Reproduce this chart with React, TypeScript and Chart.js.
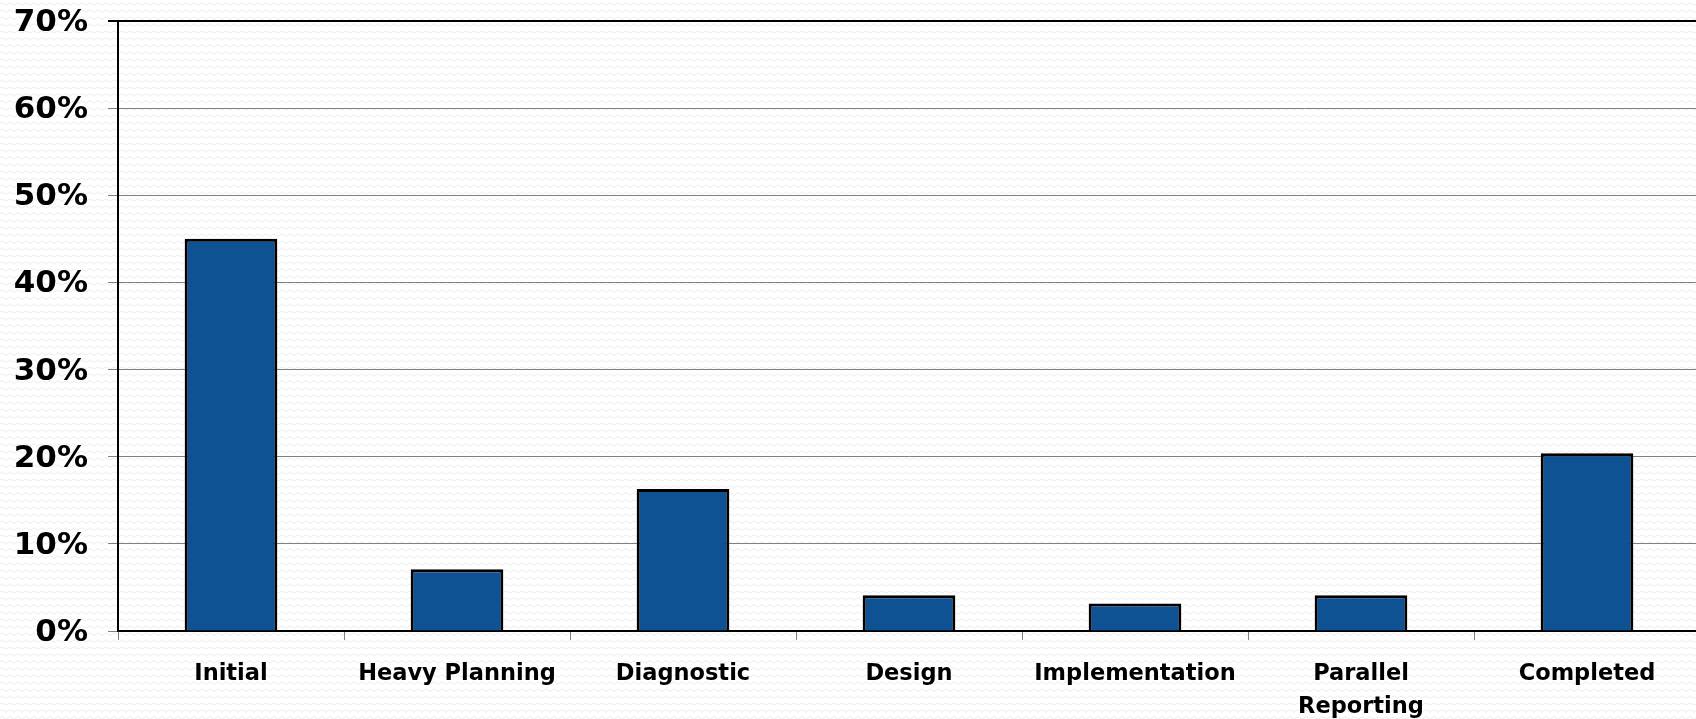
import React, { useEffect, useRef } from "react";
import { Chart, registerables } from "chart.js";

Chart.register(...registerables);

const categories: (string | string[])[] = [
  "Initial",
  "Heavy Planning",
  "Diagnostic",
  "Design",
  "Implementation",
  ["Parallel", "Reporting"],
  "Completed",
];
const shares: number[] = [45, 7.1, 16.3, 4.1, 3.15, 4.1, 20.4];
const yMin = 0;
const yMax = 70;
const yStep = 10;

const wave =
  "url(\"data:image/svg+xml;utf8," +
  encodeURIComponent(
    "<svg xmlns='http://www.w3.org/2000/svg' width='8' height='7'><path d='M0 4 Q2 1.5 4 4 T8 4' stroke='#ececec' stroke-width='1' fill='none'/></svg>"
  ) +
  "\")";

export default function App() {
  const ref = useRef<HTMLCanvasElement | null>(null);
  useEffect(() => {
    if (!ref.current) return;
    const chart = new Chart(ref.current, {
      type: "bar",
      data: {
        labels: categories,
        datasets: [
          {
            data: shares,
            backgroundColor: "#0F5294",
            borderColor: "#000000",
            borderWidth: 3,
            barPercentage: 0.41,
            categoryPercentage: 1,
          },
        ],
      },
      options: {
        animation: false,
        responsive: false,
        maintainAspectRatio: false,
        layout: { padding: { top: 0, left: 0, right: 0, bottom: 0 } },
        plugins: { legend: { display: false }, tooltip: { enabled: false } },
        scales: {
          x: {
            grid: {
              display: true,
              offset: true,
              drawOnChartArea: false,
              drawTicks: true,
              tickLength: 9,
              color: "#808080",
            },
            border: { display: true, color: "#000000", width: 2 },
            ticks: {
              color: "#000000",
              padding: 18,
              maxRotation: 0,
              autoSkip: false,
              font: { family: "'DejaVu Sans'", weight: "bold", size: 22.5, lineHeight: 1.45 },
            },
            afterFit: (s: any) => {
              s.height = 88;
            },
          },
          y: {
            min: yMin,
            max: yMax,
            grid: {
              color: (ctx: any) => (ctx.tick && ctx.tick.value === yMax ? "#000000" : "#808080"),
              lineWidth: (ctx: any) => (ctx.tick && ctx.tick.value === yMax ? 2 : 1),
              drawTicks: true,
              tickLength: 10,
            },
            border: { display: true, color: "#000000", width: 2 },
            ticks: {
              stepSize: yStep,
              color: "#000000",
              padding: 20,
              labelOffset: 2,
              callback: (v: any) => `${v}%`,
              font: { family: "'DejaVu Sans'", weight: "bold", size: 31, lineHeight: 0.065 },
            },
            afterFit: (s: any) => {
              s.width = 118;
            },
          },
        },
      },
    });
    return () => chart.destroy();
  }, []);
  return (
    <div
      style={{
        position: "fixed",
        left: 0,
        top: 0,
        width: 1700,
        height: 719,
        backgroundColor: "#ffffff",
        backgroundImage: wave,
      }}
    >
      <canvas ref={ref} width={1700} height={719} style={{ width: 1700, height: 719, display: "block" }} />
    </div>
  );
}
